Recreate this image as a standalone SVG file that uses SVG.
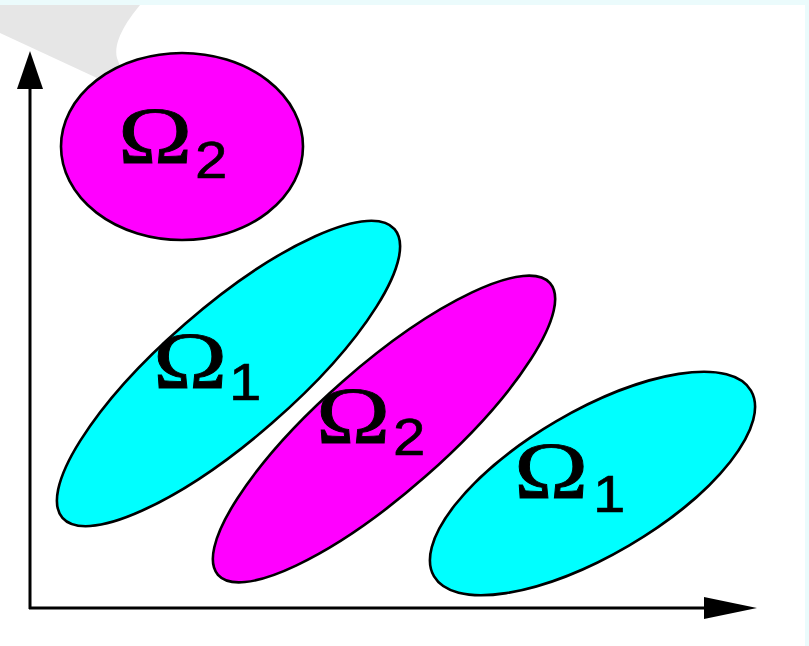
<svg xmlns="http://www.w3.org/2000/svg" width="809" height="646" viewBox="0 0 809 646">
<style>
.reg{stroke:#000;stroke-width:2.6}
.c{fill:#00ffff}
.m{fill:#ff00ff}
.om{font-family:"Liberation Serif","Times New Roman",serif;font-size:80px;fill:#000;stroke:#000;stroke-width:0.8}
.sub{font-family:"Liberation Sans",Arial,sans-serif;font-size:52px;fill:#000;stroke:#000;stroke-width:0.6}
.axis{stroke:#000;stroke-width:3;fill:none}
.head{fill:#000}
</style>
<rect x="0" y="0" width="809" height="646" fill="#ffffff"/>
<rect x="0" y="0" width="809" height="5" fill="#ebfbfc"/>
<rect x="805" y="0" width="4" height="646" fill="#ebfbfc"/>
<path d="M0,5 L140,5 C126,22 113,42 117,58 L120,66 L97,78 L0,33 Z" fill="#e6e6e6"/>
<g id="connectors">
<line class="axis" x1="30" y1="609" x2="30" y2="86"/>
<polygon class="head" points="30,51 17,89 43,89"/>
<line class="axis" x1="29" y1="608" x2="708" y2="608"/>
<polygon class="head" points="757,608 704,597 704,619"/>
</g>
<g id="omega2-top">
<ellipse class="reg m" cx="182" cy="146.5" rx="121" ry="93.5"/>
<text class="om" transform="translate(118,163) scale(1.25,1)">Ω</text>
<text class="sub" transform="translate(195,178) scale(1.12,1)">2</text>
</g>
<g id="omega1-left">
<ellipse class="reg c" cx="0" cy="0" rx="220" ry="66" transform="translate(228.5,373.5) rotate(-41)"/>
<text class="om" transform="translate(153,388) scale(1.25,1)">Ω</text>
<text class="sub" transform="translate(229,400) scale(1.12,1)">1</text>
</g>
<g id="omega2-mid">
<ellipse class="reg m" cx="0" cy="0" rx="221" ry="63" transform="translate(384,429) rotate(-41.3)"/>
<text class="om" transform="translate(316,443) scale(1.25,1)">Ω</text>
<text class="sub" transform="translate(393,455) scale(1.12,1)">2</text>
</g>
<g id="omega1-right">
<ellipse class="reg c" cx="0" cy="0" rx="183.7" ry="72" transform="translate(592.5,483.5) rotate(-30.4)"/>
<text class="om" transform="translate(514,498) scale(1.25,1)">Ω</text>
<text class="sub" transform="translate(593,512) scale(1.12,1)">1</text>
</g>
</svg>
